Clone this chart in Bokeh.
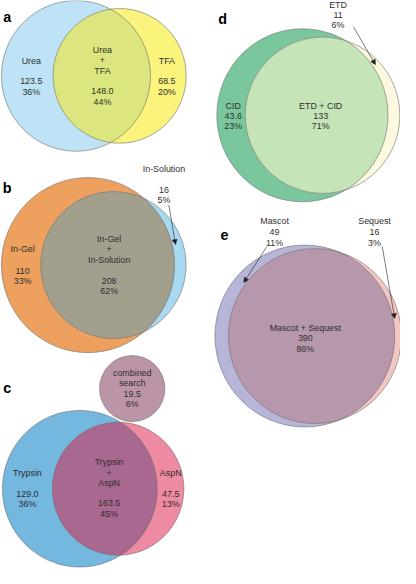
import numpy as np
from bokeh.plotting import figure
from bokeh.models import Range1d, Arrow, NormalHead
from bokeh.core.properties import value
from bokeh.embed import file_html
from bokeh.resources import INLINE

# ---------------- data ----------------
a_names = ["Urea", "TFA"]
a_only = [123.5, 68.5]
a_both = 148.0
a_pct_only = ["36%", "20%"]
a_pct_both = "44%"

b_names = ["In-Gel", "In-Solution"]
b_only = [110, 16]
b_both = 208
b_pct_only = ["33%", "5%"]
b_pct_both = "62%"

c_names = ["Trypsin", "AspN"]
c_only = [129.0, 47.5]
c_both = 163.5
c_pct_only = ["36%", "13%"]
c_pct_both = "45%"
c_extra_name = ["combined", "search"]
c_extra_value = 19.5
c_extra_pct = "6%"

d_names = ["CID", "ETD"]
d_only = [43.6, 11]
d_both = 133
d_pct_only = ["23%", "6%"]
d_pct_both = "71%"

e_names = ["Mascot", "Sequest"]
e_only = [49, 16]
e_both = 390
e_pct_only = ["11%", "3%"]
e_pct_both = "86%"

# ---------------- geometry helpers ----------------
def lens_area(r1, r2, d):
    if d >= r1 + r2:
        return 0.0
    if d <= abs(r1 - r2):
        return np.pi * min(r1, r2) ** 2
    c1 = (d * d + r1 * r1 - r2 * r2) / (2 * d * r1)
    c2 = (d * d + r2 * r2 - r1 * r1) / (2 * d * r2)
    k = (-d + r1 + r2) * (d + r1 - r2) * (d - r1 + r2) * (d + r1 + r2)
    return r1 * r1 * np.arccos(c1) + r2 * r2 * np.arccos(c2) - 0.5 * np.sqrt(k)


def solve_d(r1, r2, target):
    lo, hi = abs(r1 - r2) + 1e-9, r1 + r2
    for _ in range(100):
        mid = (lo + hi) / 2
        if lens_area(r1, r2, mid) > target:
            lo = mid
        else:
            hi = mid
    return (lo + hi) / 2


def venn2(cx, cy, r1, only, both):
    tot1 = only[0] + both
    tot2 = only[1] + both
    k = np.pi * r1 ** 2 / tot1
    r2 = np.sqrt(tot2 * k / np.pi)
    d = solve_d(r1, r2, both * k)
    return (cx, cy, r1), (cx + d, cy, r2)


def lens(c1, c2, n=160):
    (x1, y1, r1), (x2, y2, r2) = c1, c2
    d = x2 - x1
    a = (d * d + r1 * r1 - r2 * r2) / (2 * d)
    h = np.sqrt(max(r1 * r1 - a * a, 0))
    t1 = np.arctan2(h, a)
    t2 = np.arctan2(h, d - a)
    th1 = np.linspace(-t1, t1, n)
    th2 = np.linspace(np.pi - t2, np.pi + t2, n)
    xs = np.concatenate([x1 + r1 * np.cos(th1), x2 + r2 * np.cos(th2)])
    ys = np.concatenate([y1 + r1 * np.sin(th1), y2 + r2 * np.sin(th2)])
    return xs, ys


# ---------------- figure ----------------
W, H = 400, 568
REF_W, REF_H = 416, 584
S = W / REF_W

p = figure(width=W, height=H, output_backend="svg", toolbar_location=None,
           x_range=Range1d(0, REF_W), y_range=Range1d(REF_H, 0),
           min_border=0)
p.axis.visible = False
p.grid.visible = False
p.outline_line_color = None
p.background_fill_color = "white"

OUT = "#6e6e6e"
LW = 0.6
FONT = value("Liberation Sans")
FS = "%.1fpx" % (9.3 * S)
LFS = "%.1fpx" % (15 * S)
TXT = "#2e2e2e"


def draw_venn(c1, c2, col1, col2, col12):
    for (x, y, r), col in ((c1, col1), (c2, col2)):
        p.ellipse(x=[x], y=[y], width=[2 * r], height=[2 * r],
                  fill_color=col, line_color=None)
    xs, ys = lens(c1, c2)
    p.patch(xs, ys, fill_color=col12, line_color=None)
    for (x, y, r) in (c1, c2):
        p.ellipse(x=[x], y=[y], width=[2 * r], height=[2 * r],
                  fill_color=None, line_color=OUT, line_width=LW)


tx, ty, tt = [], [], []


def block(x, y0, lines, step=10.6):
    for i, t in enumerate(lines):
        if t:
            tx.append(x)
            ty.append(y0 + i * step)
            tt.append(t)


def fmt1(v):
    return "%.1f" % v


def fmtg(v):
    return "%g" % v


# panel a
A1, A2 = venn2(78.5, 77.5, 77.5, a_only, a_both)
draw_venn(A1, A2, "#bfe3f6", "#fbf47c", "#dde67e")
block(32, 62, [a_names[0], "", fmt1(a_only[0]), a_pct_only[0]])
block(106, 51, [a_names[0], "+", a_names[1], "", fmt1(a_both), a_pct_both])
block(173, 62, [a_names[1], "", fmt1(a_only[1]), a_pct_only[1]])

# panel b
B1, B2 = venn2(91, 272, 90, b_only, b_both)
draw_venn(B1, B2, "#eea15f", "#a9d9f1", "#a29f8c")
block(23, 256, [b_names[0], "", fmtg(b_only[0]), b_pct_only[0]], 10.9)
block(113, 245, [b_names[0], "+", b_names[1], "", fmtg(b_both), b_pct_both], 10.8)
block(170, 173, [b_names[1], "", fmtg(b_only[1]), b_pct_only[1]], 10.7)

# panel c
C1, C2 = venn2(82.5, 502, 80.5, c_only, c_both)
draw_venn(C1, C2, "#74b7df", "#ee8aa2", "#a8688f")
p.ellipse(x=[137], y=[399], width=[68], height=[68],
          fill_color="#bb95a7", line_color=OUT, line_width=LW)
block(137, 383, c_extra_name + [fmt1(c_extra_value), c_extra_pct], 10.7)
block(28, 486, [c_names[0], "", fmt1(c_only[0]), c_pct_only[0]], 10.6)
block(113, 475, [c_names[0], "+", c_names[1], "", fmt1(c_both), c_pct_both], 10.5)
block(177, 486, [c_names[1], "", fmt1(c_only[1]), c_pct_only[1]], 10.6)

# panel d
D1, D2 = venn2(314, 118, 89, d_only, d_both)
draw_venn(D1, D2, "#7ac79d", "#fdf9e0", "#c5e5b8")
block(351, 5, [d_names[1], fmtg(d_only[1]), d_pct_only[1]], 10.0)
block(242, 108, [d_names[0], fmtg(d_only[0]), d_pct_only[0]], 10.4)
block(333, 108, [d_names[1] + " + " + d_names[0], fmtg(d_both), d_pct_both], 10.4)

# panel e
E1, E2 = venn2(316.5, 345, 93.5, e_only, e_both)
draw_venn(E1, E2, "#b7b5d8", "#f3c6c2", "#b797ab")
block(285, 227, [e_names[0], fmtg(e_only[0]), e_pct_only[0]], 11.0)
block(389, 227, [e_names[1], fmtg(e_only[1]), e_pct_only[1]], 11.0)
block(317, 337, [e_names[0] + " + " + e_names[1], fmtg(e_both), e_pct_both], 10.5)

p.text(x=tx, y=ty, text=tt, text_align="center", text_baseline="middle",
       text_font=FONT, text_font_size=FS, text_color=TXT)

# panel letters
p.text(x=[7, 7, 7, 231, 233], y=[17.3, 193, 398.5, 19.3, 241],
       text=["a", "b", "c", "d", "e"], text_align="center",
       text_baseline="alphabetic", text_font=FONT, text_font_size=LFS,
       text_font_style="bold", text_color="black")

# arrows pointing to the small crescents
arrows = [((175, 210), (182, 251)),
          ((367, 27), (390, 66)),
          ((277, 253), (253, 290)),
          ((397, 253), (410, 327))]
for (xs0, ys0), (xe, ye) in arrows:
    p.add_layout(Arrow(end=NormalHead(size=5, fill_color="#222222",
                                      line_color="#222222", line_width=0.5),
                       x_start=xs0, y_start=ys0, x_end=xe, y_end=ye,
                       line_color="#222222", line_width=0.6))

open("out.html", "w").write(file_html(p, INLINE))
